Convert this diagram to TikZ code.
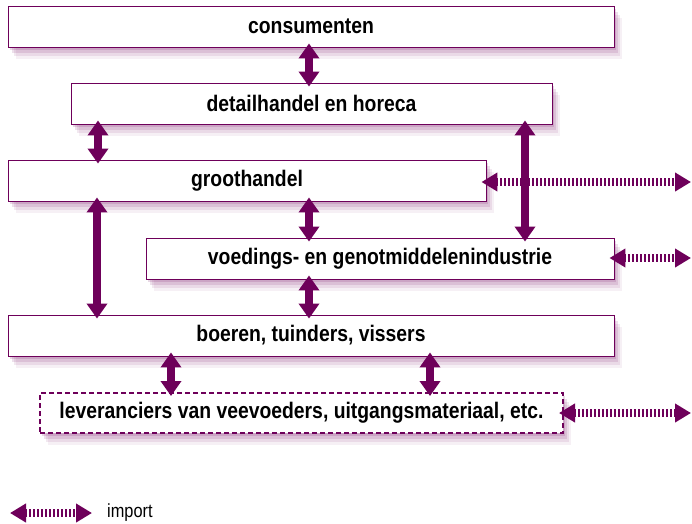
\documentclass[tikz,border=0pt]{standalone}
\usepackage{fontspec}
\setmainfont{Liberation Sans}
\newfontfamily\boxfont[FakeStretch=0.86]{Liberation Sans}
\usetikzlibrary{arrows.meta,shadows}
\definecolor{pur}{RGB}{110,0,90}
\tikzset{
  shd/.style={
    general shadow={fill=pur, opacity=0.15, shadow xshift=2pt, shadow yshift=-3pt},
    general shadow={fill=pur, opacity=0.12, shadow xshift=4pt, shadow yshift=-6pt},
    general shadow={fill=pur, opacity=0.09, shadow xshift=6pt, shadow yshift=-9pt},
    general shadow={fill=pur, opacity=0.06, shadow xshift=8pt, shadow yshift=-12pt}},
  box/.style={shd, draw=pur, line width=0.9pt, fill=white, inner sep=0pt,
    font=\boxfont\bfseries\fontsize{22.5}{24}\selectfont},
  dashbox/.style={box, line width=2pt, dash pattern=on 5pt off 3pt},
  dbl/.style={pur, line width=7.5pt, shorten <=-4pt, shorten >=-4pt,
    {Triangle[width=20pt,length=15pt]}-{Triangle[width=20pt,length=15pt]}},
  imp/.style={pur, line width=7.5pt, dash pattern=on 2pt off 2pt,
    {Triangle[width=18pt,length=16pt]}-{Triangle[width=18pt,length=16pt]}},
}
\begin{document}
\begin{tikzpicture}[x=1pt,y=-1pt]
\useasboundingbox (0,0) rectangle (692,523);

\node[box, minimum width=606pt, minimum height=41pt] (cons) at (311,26.5) {consumenten};
\node[box, minimum width=481pt, minimum height=41pt] (det) at (311.5,103.5) {detailhandel en horeca};
\node[box, minimum width=478pt, minimum height=41pt] (groot) at (247,180.5) {groothandel};
\node[box, minimum width=468pt, minimum height=41pt] (voed) at (380,258.5) {voedings- en genotmiddelenindustrie};
\node[box, minimum width=606pt, minimum height=41pt] (boer) at (311,335.5) {boeren, tuinders, vissers};
\node[dashbox, minimum width=523pt, minimum height=40pt] (lev) at (301.5,413) {leveranciers van veevoeders, uitgangsmateriaal, etc.};

\coordinate (ig) at (691,182);
\coordinate (iv) at (691,258);
\coordinate (il) at (691,413);
\draw[imp] ([xshift=-5pt]groot.east |- ig) -- (ig);
\draw[imp] ([xshift=-5pt]voed.east |- iv) -- (iv);
\draw[imp] ([xshift=-5pt]lev.east |- il) -- (il);

\draw[dbl] (309,0 |- cons.south) -- (309,0 |- det.north);
\draw[dbl] (98,0 |- det.south) -- (98,0 |- groot.north);
\draw[dbl] (525,0 |- det.south) -- (525,0 |- voed.north);
\draw[dbl] (309,0 |- groot.south) -- (309,0 |- voed.north);
\draw[dbl] (97,0 |- groot.south) -- (97,0 |- boer.north);
\draw[dbl] (309,0 |- voed.south) -- (309,0 |- boer.north);
\draw[dbl] (171,0 |- boer.south) -- (171,0 |- lev.north);
\draw[dbl] (430,0 |- boer.south) -- (430,0 |- lev.north);

\coordinate (l1) at (10,513);
\coordinate (l2) at (92,513);
\draw[imp] (l1) -- (l2);
\node[anchor=west, inner sep=0pt, font=\boxfont\fontsize{19}{21}\selectfont] (lt) at (107,513) {import};
\end{tikzpicture}
\end{document}
